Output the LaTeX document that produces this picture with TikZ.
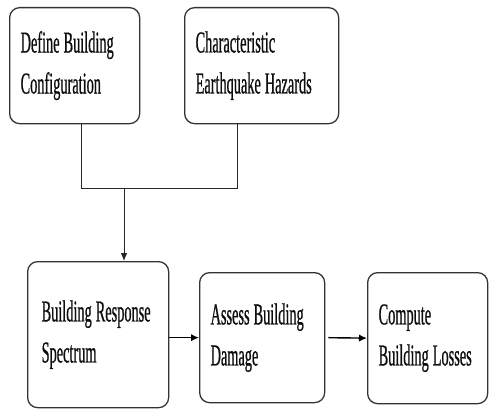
\documentclass[tikz,border=0pt]{standalone}
\usepackage{fontspec}
\usepackage{tikz}
\usetikzlibrary{arrows.meta}
\newfontfamily\stagefont[FakeStretch=0.47, FakeBold=0.6]{Liberation Serif}
\newcommand\gap{\hspace{0.12cm}}

\tikzset{
  stage/.style={draw=black!80, line width=1.1pt, rounded corners=0.3cm, anchor=north west,
    align=left, inner xsep=0.33cm, font=\stagefont\fontsize{26}{35}\selectfont, text=black!95},
  flow/.style={line width=1.2pt, -{Latex[length=2.4mm,width=2.2mm]}}
}

\begin{document}
\begin{tikzpicture}
  \useasboundingbox (0,0) rectangle (14.67,-12.24);
  % riga superiore
  \node[stage, text width=3.24cm, minimum height=3.48cm] (config) at (0.27,-0.21) {Define\gap Building\\Configuration};
  \node[stage, text width=3.96cm, minimum height=3.48cm] (hazard) at (5.52,-0.21) {Characteristic\\Earthquake\gap Hazards};
  % riga inferiore
  \node[stage, inner xsep=0.42cm, text width=3.39cm, minimum height=4.38cm] (spectrum) at (0.81,-7.83) {Building\gap Response\\Spectrum};
  \node[stage, text width=3.09cm, minimum height=3.9cm] (damage) at (5.97,-8.16) {Assess\gap Building\\Damage};
  \node[stage, text width=2.94cm, minimum height=3.93cm] (losses) at (11.01,-8.16) {Compute\\Building\gap Losses};
  % collettore
  \coordinate (left) at (2.43,-5.64);
  \coordinate (right) at (7.11,-5.64);
  \coordinate (join) at (3.72,-5.64);
  \draw[line width=0.8pt, black!85] (config.south -| left) -- (left) -- (right) -- (hazard.south -| right);
  \draw[line width=0.8pt, black!85, -{Latex[length=2.4mm,width=2mm]}] (join) -- (join |- spectrum.north);
  % frecce orizzontali
  \draw[flow] (spectrum.east |- damage.west) -- (damage.west);
  \draw[flow, shorten <=0.09cm] (damage.east) -- (losses.west);
\end{tikzpicture}
\end{document}
